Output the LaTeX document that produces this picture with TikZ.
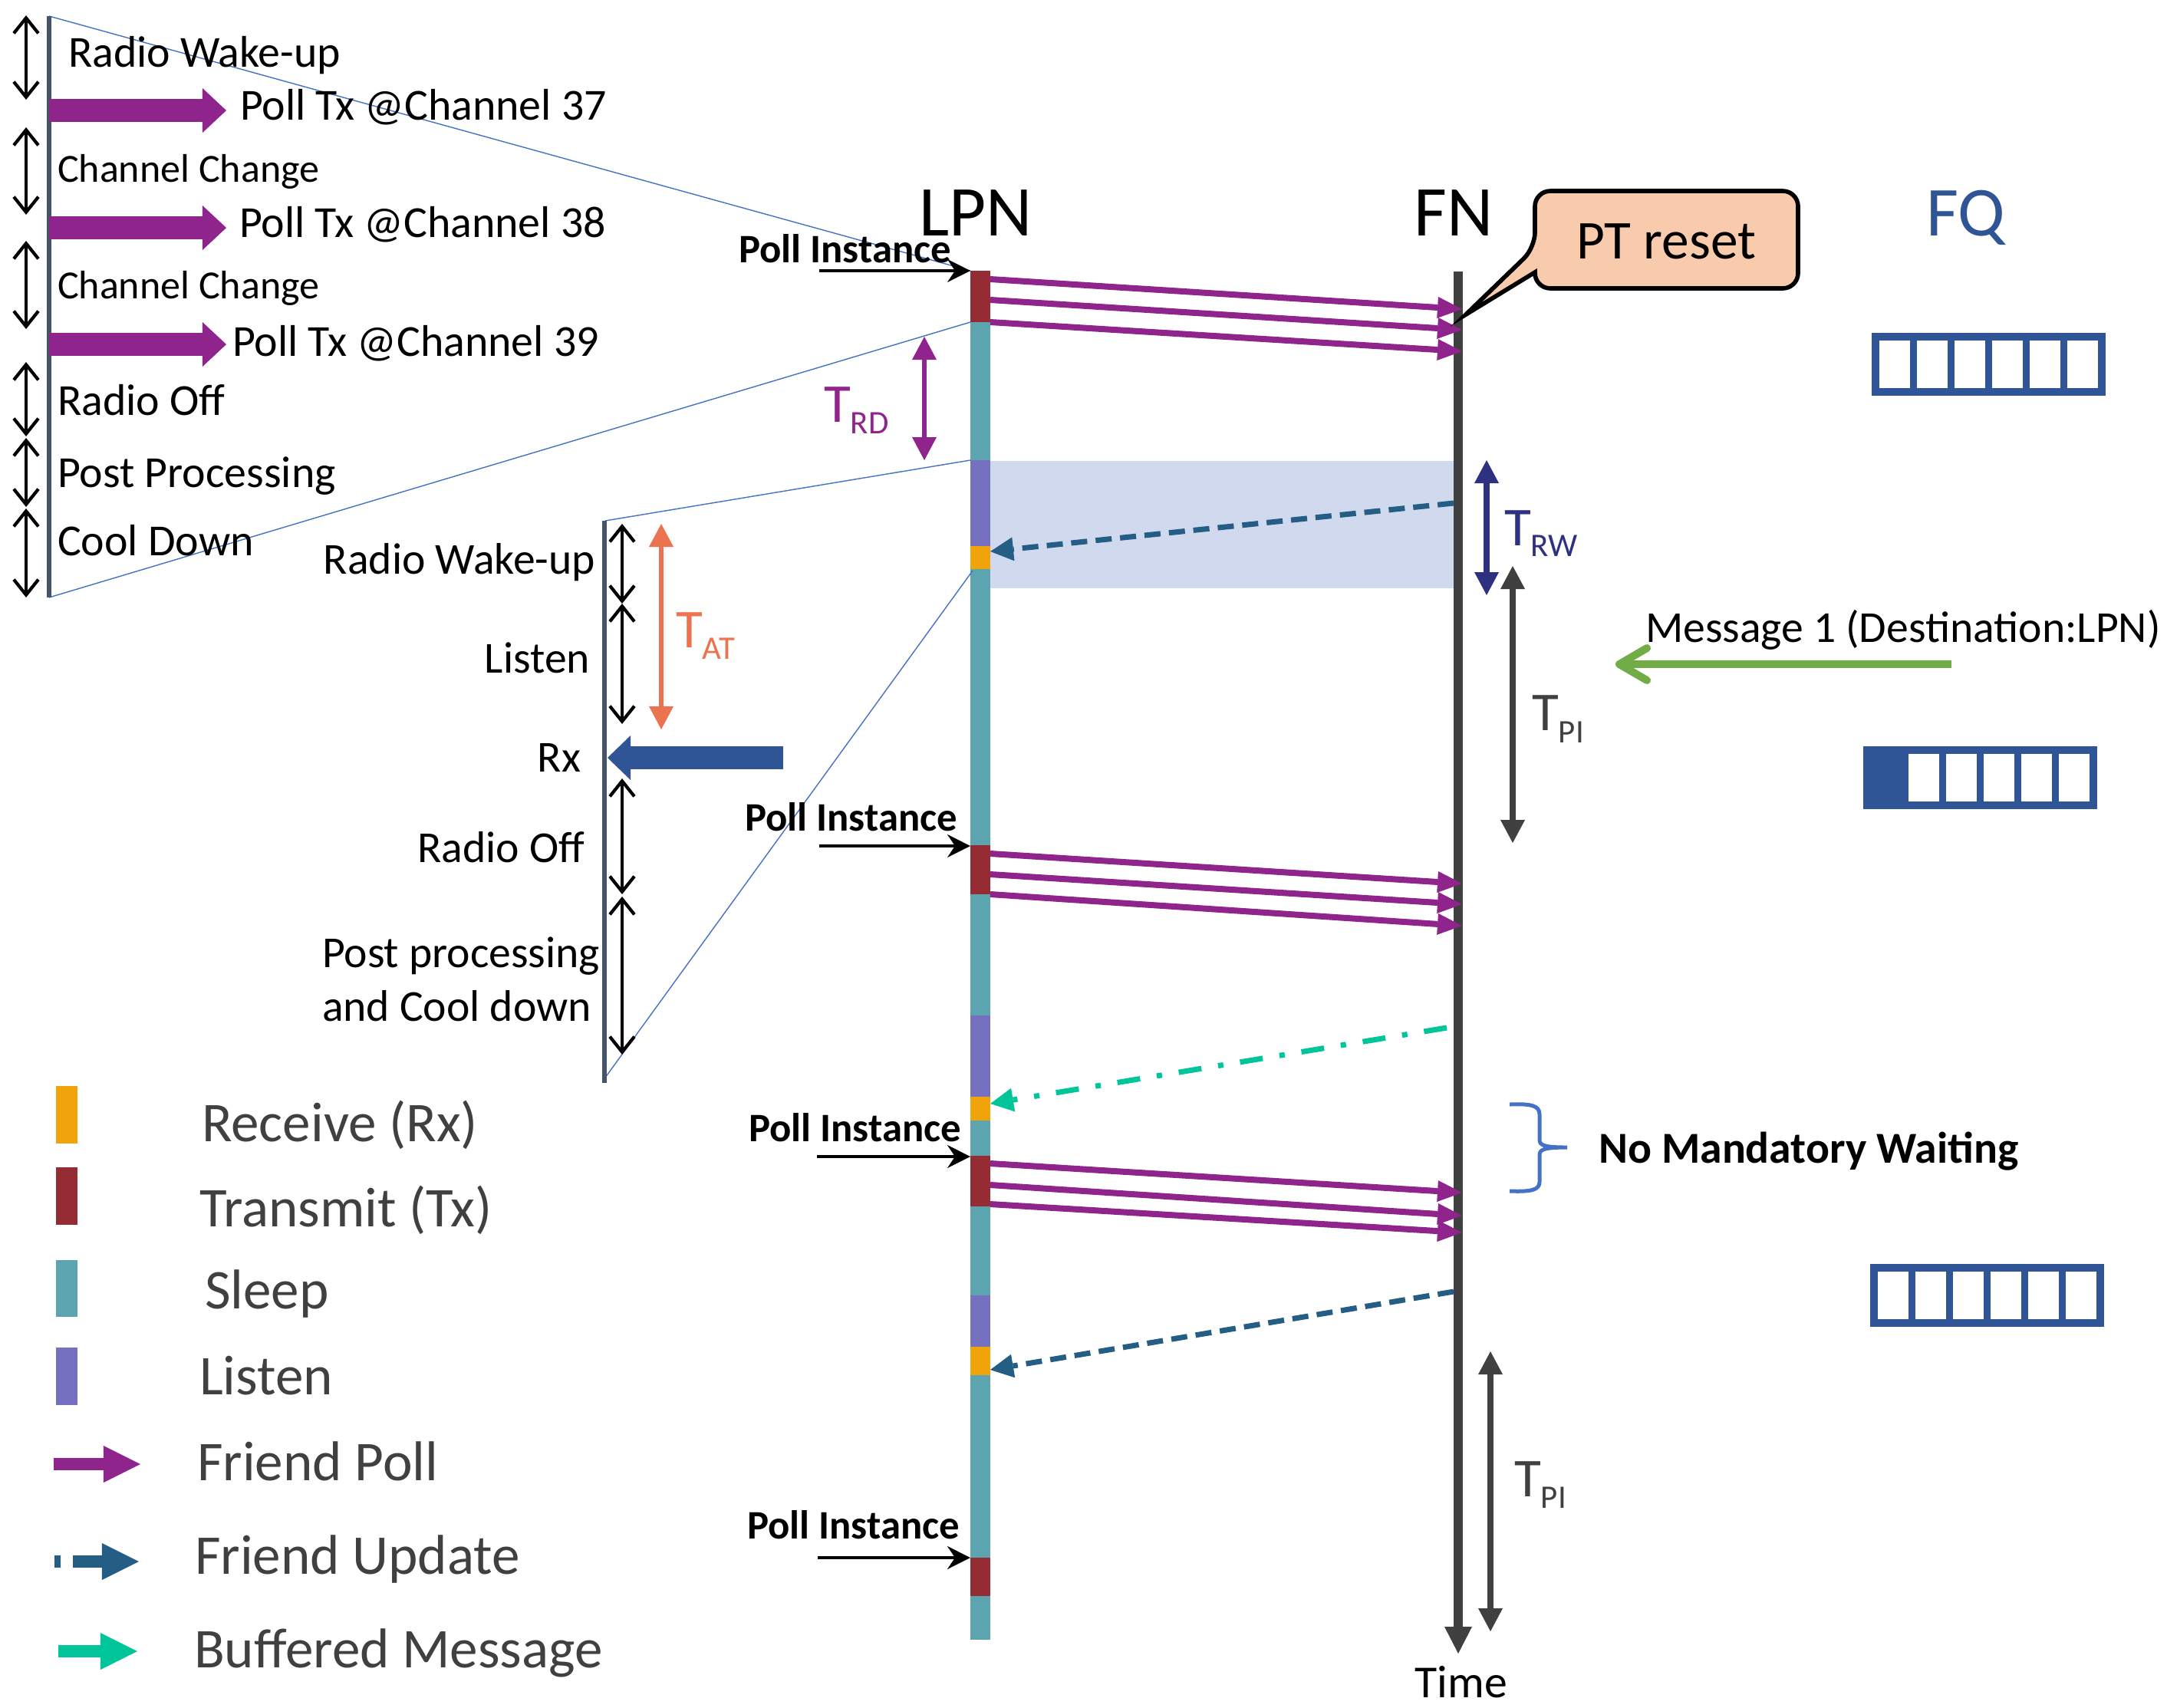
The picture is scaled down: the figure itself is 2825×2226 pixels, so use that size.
\documentclass[tikz,border=0pt]{standalone}
\usepackage{fontspec}
\setmainfont{Carlito}
\usetikzlibrary{arrows.meta}
\definecolor{cPoll}{RGB}{142,36,140}
\definecolor{cTx}{RGB}{149,43,51}
\definecolor{cSleep}{RGB}{91,164,176}
\definecolor{cListen}{RGB}{117,112,192}
\definecolor{cRx}{RGB}{240,163,10}
\definecolor{cUpd}{RGB}{37,94,133}
\definecolor{cBuf}{RGB}{0,196,154}
\definecolor{cFN}{RGB}{64,64,64}
\definecolor{cQ}{RGB}{47,85,151}
\definecolor{cRW}{RGB}{46,49,128}
\definecolor{cAT}{RGB}{235,115,80}
\definecolor{cMsg}{RGB}{112,173,71}
\definecolor{cZoom}{RGB}{68,114,196}
\definecolor{cBar}{RGB}{68,84,106}
\definecolor{cShade}{RGB}{208,217,238}
\definecolor{cCall}{RGB}{248,203,173}
\definecolor{cText}{RGB}{64,64,64}
\newcommand\Tsub[2]{T\raisebox{-#2}{\fontsize{12.2}{14}\selectfont #1}}
\begin{document}
\begin{tikzpicture}[x=0.01cm,y=-0.01cm,
  txt/.style={inner sep=0pt, outer sep=0pt},
  fPanel/.style={font=\fontsize{16.45}{19}\selectfont},
  fChan/.style={font=\fontsize{14.8}{17}\selectfont},
  fPanelB/.style={font=\fontsize{16.4}{19}\selectfont},
  fHead/.style={font=\fontsize{26.5}{30}\selectfont},
  fPoll/.style={font=\bfseries\fontsize{15}{17}\selectfont},
  fLeg/.style={font=\fontsize{20.8}{24}\selectfont, text=cText},
  fT/.style={font=\fontsize{20.3}{22}\selectfont},
  dbl/.style={black, line width=1.2pt, {Straight Barb[length=0.2cm,width=0.32cm]}-{Straight Barb[length=0.2cm,width=0.32cm]}},
  blockR/.style={line width=0.3cm, -{Triangle[length=0.31cm,width=0.58cm,line width=0pt]}},
  legarrow/.style={line width=0.165cm, -{Triangle[length=0.48cm,width=0.48cm,line width=0pt]}},
  poll/.style={cPoll, line width=0.08cm, -{Triangle[length=0.32cm,width=0.28cm,line width=0pt]}},
  pinst/.style={black, line width=0.9pt, -{Stealth[length=0.3cm,width=0.3cm,inset=0.1cm]}},
  zoomln/.style={cZoom, line width=0.4pt},
  upd/.style={cUpd, line width=0.07cm, dash pattern=on 0.21cm off 0.11cm, -{Triangle[length=0.3cm,width=0.31cm,line width=0pt]}},
  buf/.style={cBuf, line width=0.07cm, dash pattern=on 0.3cm off 0.22cm on 0.07cm off 0.22cm, -{Triangle[length=0.3cm,width=0.31cm,line width=0pt]}},
  tdim/.style={line width=0.08cm, {Triangle[length=0.3cm,width=0.32cm,line width=0pt]}-{Triangle[length=0.3cm,width=0.32cm,line width=0pt]}},
  qbox/.style={cQ, line width=0.1cm},
  qdiv/.style={cQ, line width=0.09cm},
]
\useasboundingbox (0,0) rectangle (2825,2226);

% ---------- shaded listening window ----------
\fill[cShade] (1291,601) rectangle (1895,767);

% ---------- LPN timeline ----------
\foreach \a/\b/\c in {353/420/cTx, 420/600/cSleep, 600/712/cListen, 712/742/cRx,
  742/1102/cSleep, 1102/1166/cTx, 1166/1324/cSleep, 1324/1430/cListen, 1430/1461/cRx,
  1461/1507/cSleep, 1507/1573/cTx, 1573/1689/cSleep, 1689/1756/cListen, 1756/1793/cRx,
  1793/2031/cSleep, 2031/2081/cTx, 2081/2138/cSleep}
  \fill[\c] (1265,\a) rectangle (1291,\b);

% ---------- FN timeline ----------
\coordinate (FNtop) at (1901,354);
\coordinate (FNbot) at (1901,2156);
\draw[cFN, line width=0.12cm, -{Triangle[length=0.35cm,width=0.36cm,line width=0pt]}] (FNtop) -- (FNbot);

\node[txt, fHead, anchor=base] (lpn) at (1272,307) {LPN};
\node[txt, fHead, anchor=base] (fn) at (1895,307) {FN};
\node[txt, font=\fontsize{17}{20}\selectfont, anchor=base] (time) at (1905,2213) {Time};

% ---------- zoom lines ----------
\coordinate (Z1t) at (64,21);
\coordinate (Z1b) at (64,779);
\coordinate (Z2t) at (789,679);
\coordinate (Z2b) at (789,1405);
\draw[zoomln] (Z1t) -- (1265,353);
\draw[zoomln] (Z1b) -- (1265,420);
\draw[zoomln] (Z2t) -- (1265,600);
\draw[zoomln] (Z2b) -- (1268,744);

% ---------- top-left zoom panel ----------
\draw[cBar, line width=0.055cm] (Z1t) -- (Z1b);
\foreach \a/\b in {20/130, 166/280, 314/429, 472/569, 571/661, 663/779}
  \draw[dbl] (34,\a) -- (34,\b);
\foreach \y in {144, 297, 449}
  \draw[cPoll, blockR] (64,\y) -- (295,\y);
\node[txt, fPanel, anchor=base west] (rw1) at (89,87) {Radio Wake-up};
\node[txt, fPanel, anchor=base west] (c37) at (313,156) {Poll Tx @Channel 37};
\node[txt, fChan, anchor=base west] (cc1) at (75,237) {Channel Change};
\node[txt, fPanel, anchor=base west] (c38) at (312,309) {Poll Tx @Channel 38};
\node[txt, fChan, anchor=base west] (cc2) at (75,389) {Channel Change};
\node[txt, fPanel, anchor=base west] (c39) at (303,464) {Poll Tx @Channel 39};
\node[txt, fPanel, anchor=base west] (ro1) at (75,541) {Radio Off};
\node[txt, fPanel, anchor=base west] (pp1) at (75,635) {Post Processing};
\node[txt, fPanel, anchor=base west] (cd1) at (75,724) {Cool Down};

% ---------- second zoom panel ----------
\draw[cBar, line width=0.06cm] (788,679) -- (788,1412);
\foreach \a/\b in {683/787, 787/944, 1015/1166, 1169/1375}
  \draw[dbl] (811,\a) -- (811,\b);
\draw[cAT, tdim, line width=0.06cm] (862,683) -- (862,951);
\node[txt, fT, text=cAT, anchor=base west] (tat) at (881,844) {\Tsub{AT}{4.3pt}};
\draw[cQ, line width=0.3cm, -{Triangle[length=0.30cm,width=0.58cm,line width=0pt]}] (1021,988) -- (792,988);
\node[txt, fPanelB, anchor=base east] (rw2) at (776,748) {Radio Wake-up};
\node[txt, fPanelB, anchor=base east] (ls2) at (769,877) {Listen};
\node[txt, fPanelB, anchor=base east] (rx2) at (757,1006) {Rx};
\node[txt, fPanelB, anchor=base east] (ro2) at (762,1124) {Radio Off};
\node[txt, fPanelB, anchor=base west] (pp2) at (420,1261) {Post processing};
\node[txt, fPanelB, anchor=base west] (cd2) at (420,1331) {and Cool down};

% ---------- poll instances ----------
\foreach \tx/\ty/\ax/\ay [count=\i] in {963/342/1068/353, 971/1083/1068/1103, 976/1488/1065/1508, 974/2006/1066/2031} {
  \node[txt, fPoll, anchor=base west] (pi\i) at (\tx,\ty) {Poll Instance};
  \coordinate (pia\i) at (\ax,\ay);
  \coordinate (pib\i) at (1265,\ay);
  \draw[pinst] (pia\i) -- (pib\i);
}

% ---------- friend poll arrows ----------
\foreach \sy/\ey [count=\i] in {364/403, 391/430, 420/458, 1113/1152, 1140/1179, 1166/1207, 1517/1555, 1545/1585, 1570/1607} {
  \coordinate (ps\i) at (1291,\sy);
  \coordinate (pe\i) at (1906,\ey);
  \draw[poll] (ps\i) -- (pe\i);
}

% ---------- friend update / buffered message ----------
\coordinate (u1s) at (1895,656);  \coordinate (u1e) at (1291,719);
\coordinate (bs) at (1886,1340);  \coordinate (be) at (1291,1439);
\coordinate (u2s) at (1895,1684); \coordinate (u2e) at (1291,1786);
\draw[upd] (u1s) -- (u1e);
\draw[buf] (bs) -- (be);
\draw[upd] (u2s) -- (u2e);

% ---------- timing annotations ----------
\draw[cPoll, tdim, line width=0.06cm] (1205,439) -- (1205,600);
\node[txt, fT, text=cPoll, anchor=base west] (trd) at (1074,550) {\Tsub{RD}{4.3pt}};
\draw[cRW, tdim] (1938,600) -- (1938,776);
\node[txt, fT, text=cRW, anchor=base west] (trw) at (1961,711) {\Tsub{RW}{4pt}};
\draw[cFN, tdim] (1972,738) -- (1972,1099);
\node[txt, fT, text=cFN, anchor=base west] (tpi1) at (1997,952) {\Tsub{PI}{4.8pt}};
\draw[cFN, tdim] (1943,1762) -- (1943,2127);
\node[txt, fT, text=cFN, anchor=base west] (tpi2) at (1974,1951) {\Tsub{PI}{4.3pt}};

% ---------- PT reset callout ----------
\draw[line width=1.6pt, fill=cCall] (1911,410) -- (2001,355) [rounded corners=0.2cm] -- (2001,376) -- (2344,376) -- (2344,249) -- (2001,249) -- (2001,323) [sharp corners] -- cycle;
\node[txt, fT, anchor=base west] (ptr) at (2055,337) {PT reset};

% ---------- friend queue ----------
\node[txt, font=\fontsize{26}{30}\selectfont, text=cQ, anchor=base west] (fq) at (2511,307) {FQ};
\foreach \qx/\qy/\qf [count=\i] in {2440/434/0, 2429/973/1, 2438/1648/0} {
  \begin{scope}[shift={(\qx,\qy)}]
    \ifnum\qf=1 \fill[cQ] (0,0) rectangle (56,82); \fi
    \draw[qbox] (5,5) rectangle (300,77);
    \foreach \d in {54.5,103.5,152.5,201.5,250.5}
      \draw[qdiv] (\d,10) -- (\d,72);
  \end{scope}
}

% ---------- message 1 ----------
\node[txt, font=\fontsize{16.4}{19}\selectfont, anchor=base west] (msg) at (2145,837) {Message 1 (Destination:LPN)};
\coordinate (m1s) at (2544,866);
\coordinate (m1e) at (2106,866);
\draw[cMsg, line width=0.1cm, -{Straight Barb[length=0.36cm,width=0.42cm,round]}] (m1s) -- (m1e);

% ---------- no mandatory waiting ----------
\draw[cZoom, line width=0.05cm] (1968,1440) .. controls (1995,1439) and (2007,1441) .. (2007,1453) -- (2007,1486) .. controls (2007,1493) and (2012,1496) .. (2043,1496) .. controls (2012,1496) and (2007,1499) .. (2007,1506) -- (2007,1541) .. controls (2007,1552) and (1995,1554) .. (1968,1553);
\node[txt, font=\bfseries\fontsize{16.4}{20}\selectfont, anchor=base west] (nmw) at (2084,1516) {No Mandatory Waiting};

% ---------- legend ----------
\fill[cRx] (73,1416) rectangle (101,1491);
\fill[cTx] (73,1522) rectangle (101,1597);
\fill[cSleep] (73,1643) rectangle (101,1717);
\fill[cListen] (73,1757) rectangle (101,1832);
\draw[cPoll, legarrow] (70,1909) -- (183,1909);
\draw[cUpd, legarrow, dash pattern=on 0.08cm off 0.16cm on 2cm] (71,2036) -- (181,2036);
\draw[cBuf, legarrow] (76,2153) -- (179,2153);
\node[txt, fLeg, anchor=base west] (lg1) at (263,1488) {Receive (Rx)};
\node[txt, fLeg, anchor=base west] (lg2) at (260,1599) {Transmit (Tx)};
\node[txt, fLeg, anchor=base west] (lg3) at (267,1706) {Sleep};
\node[txt, fLeg, anchor=base west] (lg4) at (260,1818) {Listen};
\node[txt, fLeg, anchor=base west] (lg5) at (257,1930) {Friend Poll};
\node[txt, fLeg, anchor=base west] (lg6) at (254,2052) {Friend Update};
\node[txt, fLeg, anchor=base west] (lg7) at (253,2174) {Buffered Message};
\end{tikzpicture}
\end{document}
